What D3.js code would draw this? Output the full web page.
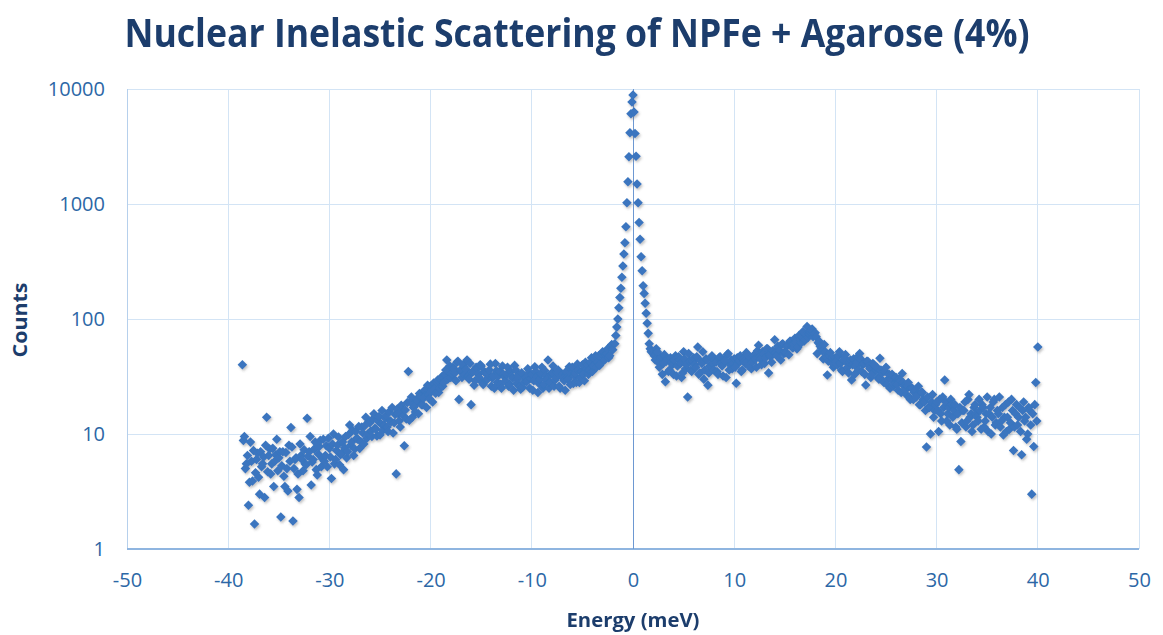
<!DOCTYPE html>
<html>
<head>
<meta charset="utf-8">
<script src="https://cdn.jsdelivr.net/npm/d3@7"></script>
<style>
  html, body { margin: 0; padding: 0; background: #ffffff; }
  svg { display: block; }
</style>
</head>
<body>
<svg id="chart" width="1163" height="635"></svg>
<script>
// ---------- data ----------
const title = "Nuclear Inelastic Scattering of NPFe + Agarose (4%)";
const xTitle = "Energy (meV)";
const yTitle = "Counts";
const xTicks = [-50, -40, -30, -20, -10, 0, 10, 20, 30, 40, 50];
const yTicks = [1, 10, 100, 1000, 10000];

// Left wing A: energies -38.6 ... -2.0 meV, step 0.2
const leftStartA = -38.6, leftStepA = 0.2;
const leftCountsA = [
  40, 9.5, 5.5, 2.4, 8.5, 3.9, 1.65, 6, 4.2, 7,
  5.5, 2.8, 14, 6.5, 4.5, 7.5, 5.8, 9, 6.2, 1.9,
  7, 3.5, 5, 8, 11.4, 1.75, 6, 3.3, 2.8, 6.5,
  4.8, 5.5, 13.7, 7, 3.6, 6, 8.5, 4.4, 7.8, 5.2,
  9, 6.5, 5.2, 7.5, 4.1, 10, 6, 8, 5.4, 6.8,
  4.9, 9.5, 7, 12, 8.5, 6.5, 10.5, 9, 7.5, 11.5,
  8.2, 14, 10, 12.5, 9.5, 15, 11, 13, 9.8, 16,
  12, 14.5, 10.5, 13, 17, 12.5, 4.5, 15, 11.5, 16,
  7.9, 13.5, 35, 19, 14, 17.5, 20, 15, 21, 18,
  24, 17, 22, 26, 19, 25, 28, 23, 30, 26,
  33, 44, 35, 31, 38, 34, 42, 20, 36, 40,
  33, 44, 30, 18, 35, 29, 37, 31, 39, 27,
  34, 30, 36, 26, 32, 41, 28, 35, 25, 33,
  29, 38, 27, 32, 24, 36, 30, 26, 34, 28,
  31, 37, 25, 33, 29, 35, 23, 30, 38, 27,
  32, 44, 28, 34, 26, 31, 36, 25, 33, 29,
  35, 30, 27, 38, 32, 28, 36, 31, 40, 29,
  37, 33, 42, 35, 45, 38, 48, 41, 52, 44,
  50, 46, 58, 54
];
// Left wing B: energies -38.5 ... -2.3 meV, step 0.2
const leftStartB = -38.5, leftStepB = 0.2;
const leftCountsB = [
  8.8, 5, 6.5, 3.8, 5.8, 7.2, 4.6, 6.8, 3, 5.2,
  6.3, 8, 4.7, 7.4, 5.5, 3.5, 6.6, 4.8, 7, 5.3,
  4.3, 6.9, 3.2, 5.8, 7.7, 5, 6.2, 4.5, 8.2, 6,
  7.3, 5.4, 6.4, 9.5, 5.7, 7.4, 4.9, 6.7, 8.8, 6.1,
  5.8, 7.9, 9.2, 6.3, 8.2, 5.5, 7.2, 9.4, 6.6, 8.5,
  7.6, 6.2, 9.9, 8, 10.8, 7.4, 9.2, 11.6, 8.6, 10.2,
  11.8, 9.2, 12.8, 10.6, 13.5, 11.2, 9.6, 14.2, 12.2, 10.8,
  13.8, 11.5, 15.6, 12.8, 10.2, 14.8, 16.5, 13, 17.8, 14.4,
  16.2, 18.8, 13.2, 21, 17, 15.5, 19.6, 22.5, 18, 20.5,
  21.5, 26.5, 20.2, 24.2, 27.8, 22.6, 29.5, 25, 31.5, 28,
  36, 30, 39, 33.5, 37, 29, 43, 35.5, 31, 38.5,
  36.5, 32, 41, 34.5, 26.5, 38, 33, 40, 28, 35,
  29.5, 33.5, 40.5, 30.5, 25, 35.5, 32, 27, 39, 31.5,
  33, 26, 35, 30.5, 39.5, 27.5, 32.5, 24.5, 25.5, 31,
  28.5, 34, 30.5, 24, 38.5, 31.5, 27.5, 33.5, 25, 35.5,
  30, 25, 33, 39, 29.5, 34.5, 26, 32, 30.5, 24,
  31, 38.5, 33.5, 27.5, 34, 40.5, 28, 35, 33, 42,
  40, 36, 46, 39, 48, 42, 39.5, 50, 44.5, 49,
  55, 48, 60
];

// Elastic peak: energies -1.8 ... 1.8 meV, step 0.1
const peakStart = -1.8, peakStep = 0.1;
const peakCounts = [
  61, 72, 85, 100, 125, 154, 185, 231, 289, 367,
  461, 635, 1026, 1560, 2580, 4170, 6100, 7700, 8870, 6300,
  4100, 2600, 1490, 1026, 690, 493, 348, 263, 195, 167,
  137, 112, 92, 75, 61, 55, 52
];

// Right wing A: energies 2.0 ... 40.0 meV, step 0.2
const rightStartA = 2.0, rightStepA = 0.2;
const rightCountsA = [
  50, 44, 52, 38, 47, 41, 28.5, 45, 36, 42,
  33, 48, 39, 44, 31, 52, 37, 21, 43, 35,
  46, 38, 57, 34, 41, 30, 45, 26.6, 39, 48,
  36, 42, 33, 47, 39, 44, 31, 50, 40, 37,
  45, 27.6, 41, 48, 36, 43, 51, 39, 46, 42,
  49, 38, 59, 45, 52, 41, 55, 34, 47, 53,
  66, 48, 57, 44, 61, 52, 58, 49, 64, 56,
  68, 55, 72, 62, 78, 66, 86, 74, 80, 70,
  76, 50, 64, 56, 45, 52, 32.6, 48, 42, 38,
  46, 40, 52, 36, 44, 49, 38, 42, 29.5, 45,
  39, 47, 50, 35, 41, 26.7, 43, 37, 33, 40,
  36, 31, 45.6, 34, 28, 38, 30, 25, 33, 27,
  31, 24, 29, 33.6, 26, 22, 28, 20, 25, 23,
  21, 26, 18, 23, 19, 7.7, 17, 10, 22, 16,
  19, 10.5, 15, 21, 29.5, 13, 17, 20, 14, 18,
  11, 4.9, 8.6, 16, 19, 13, 22, 15, 12, 18,
  14, 20, 11, 17, 13, 21, 15, 10, 19, 12,
  16, 21, 13, 9.8, 18, 14, 11, 20, 7.2, 15,
  12, 17, 6.6, 19, 14, 10, 16, 3.0, 7.8, 28,
  57
];
// Right wing B: energies 2.1 ... 39.9 meV, step 0.2
const rightStartB = 2.1, rightStepB = 0.2;
const rightCountsB = [
  48, 55, 42, 46, 33, 49, 43, 35, 46, 40,
  44, 32, 47, 41, 34, 45, 40, 50, 36, 43,
  40, 47, 33, 43, 52, 36, 44, 34, 46, 41,
  44, 35, 46, 41, 32, 43, 49, 36, 44, 41,
  38, 46, 43, 35, 45, 41, 49, 44, 37, 48,
  45, 53, 47, 40, 50, 46, 55, 49, 42, 52,
  51, 58, 53, 60, 50, 51, 59, 64, 57, 61,
  63, 57, 66, 70, 64, 73, 69, 77, 82, 75,
  70, 62, 58, 53, 60, 47, 43, 51, 46, 40,
  43, 48, 41, 35, 46, 42, 34, 44, 40, 33,
  42, 36, 45, 40, 33, 43, 39, 31, 41, 35,
  38, 30, 36, 29, 35, 27, 33, 30, 26, 31,
  27, 30, 23, 28, 24, 26, 21, 25, 20, 24,
  22, 18, 23, 20, 16, 21, 17, 19, 14, 18,
  16, 20, 13, 17, 19, 15, 12, 18, 16, 11.5,
  15, 17, 12.5, 16, 11.5, 20, 14, 10.5, 17, 15,
  13, 16, 18, 11.5, 15, 10.5, 17, 14, 20, 12.5,
  15, 11.5, 17, 14, 10.5, 19, 12.5, 16, 11.5, 18,
  14, 10.5, 16, 13, 9, 17, 12, 15, 18, 13
];

// ---------- build point table ----------
function seg(start, step, counts) {
  return counts.map((c, i) => ({ e: +(start + i * step).toFixed(2), c }));
}
const points = [].concat(
  seg(leftStartA, leftStepA, leftCountsA),
  seg(leftStartB, leftStepB, leftCountsB),
  seg(peakStart, peakStep, peakCounts),
  seg(rightStartA, rightStepA, rightCountsA),
  seg(rightStartB, rightStepB, rightCountsB)
).sort((a, b) => a.e - b.e);

// ---------- layout ----------
const svg = d3.select("#chart");
const plot = { left: 127, right: 1139, top: 89, bottom: 549 };
const x = d3.scaleLinear().domain([-50, 50]).range([plot.left, plot.right]);
const y = d3.scaleLog().domain([1, 10000]).range([plot.bottom, plot.top]);

const navy = "#1c3d6c";
const tickBlue = "#2c67a6";
const gridCol = "#d3e4f5";

const defs = svg.append("defs");
const f = defs.append("filter").attr("id", "shadow")
  .attr("x", "-50%").attr("y", "-50%").attr("width", "200%").attr("height", "200%");
f.append("feDropShadow").attr("dx", 1.2).attr("dy", 1.8)
  .attr("stdDeviation", 1.2).attr("flood-color", "#555").attr("flood-opacity", 0.35);

// grid
svg.append("g").selectAll("line").data(xTicks).join("line")
  .attr("x1", d => x(d)).attr("x2", d => x(d))
  .attr("y1", plot.top).attr("y2", plot.bottom)
  .attr("stroke", gridCol).attr("stroke-width", 1).attr("shape-rendering", "crispEdges");
svg.append("g").selectAll("line").data(yTicks.slice(1)).join("line")
  .attr("x1", plot.left).attr("x2", plot.right)
  .attr("y1", d => y(d)).attr("y2", d => y(d))
  .attr("stroke", gridCol).attr("stroke-width", 1).attr("shape-rendering", "crispEdges");

// axis lines
svg.append("line").attr("x1", plot.left).attr("x2", plot.left)
  .attr("y1", plot.top).attr("y2", plot.bottom)
  .attr("stroke", "#b6d0ec").attr("shape-rendering", "crispEdges");
svg.append("line").attr("x1", plot.left).attr("x2", plot.right)
  .attr("y1", plot.bottom).attr("y2", plot.bottom)
  .attr("stroke", "#8fb5e0").attr("stroke-width", 1.5).attr("shape-rendering", "crispEdges");
svg.append("line").attr("x1", x(0)).attr("x2", x(0))
  .attr("y1", plot.top).attr("y2", plot.bottom)
  .attr("stroke", "#6d98d2").attr("stroke-width", 1).attr("shape-rendering", "crispEdges");

// tick labels via d3 axes
const yAxis = d3.axisLeft(y).tickValues(yTicks).tickFormat(d3.format("d")).tickSize(0).tickPadding(22);
const gy = svg.append("g").attr("transform", `translate(${plot.left},0)`).call(yAxis);
gy.select(".domain").remove();
gy.selectAll("text").attr("fill", tickBlue).style("font-family", "'Open Sans', sans-serif")
  .style("font-size", "20px");

const xAxis = d3.axisBottom(x).tickValues(xTicks).tickFormat(d3.format("d")).tickSize(0).tickPadding(24);
const gx = svg.append("g").attr("transform", `translate(0,${plot.bottom})`).call(xAxis);
gx.select(".domain").remove();
gx.selectAll("text").attr("fill", tickBlue).style("font-family", "'Open Sans', sans-serif")
  .style("font-size", "20px").text(d => d < 0 ? "-" + Math.abs(d) : d);

// points
const sym = d3.symbol().type(d3.symbolDiamond2).size(58);
svg.append("g").attr("filter", "url(#shadow)")
  .selectAll("path").data(points).join("path")
  .attr("d", sym)
  .attr("transform", d => `translate(${x(d.e)},${y(d.c)})`)
  .attr("fill", "#3a75bf");

// titles
svg.append("text").attr("x", 577).attr("y", 47).attr("text-anchor", "middle")
  .attr("fill", navy).style("font-family", "'Open Sans', sans-serif")
  .style("font-weight", "700").style("font-size", "40px")
  .attr("textLength", 905).attr("lengthAdjust", "spacingAndGlyphs")
  .text(title);

svg.append("text").attr("x", 633).attr("y", 627).attr("text-anchor", "middle")
  .attr("fill", navy).style("font-family", "'Open Sans', sans-serif")
  .style("font-weight", "700").style("font-size", "19px")
  .attr("textLength", 133).attr("lengthAdjust", "spacingAndGlyphs")
  .text(xTitle);

svg.append("text").attr("transform", "translate(27,320) rotate(-90)").attr("text-anchor", "middle")
  .attr("fill", navy).style("font-family", "'Open Sans', sans-serif")
  .style("font-weight", "700").style("font-size", "19px")
  .attr("textLength", 75).attr("lengthAdjust", "spacingAndGlyphs")
  .text(yTitle);
</script>
</body>
</html>
